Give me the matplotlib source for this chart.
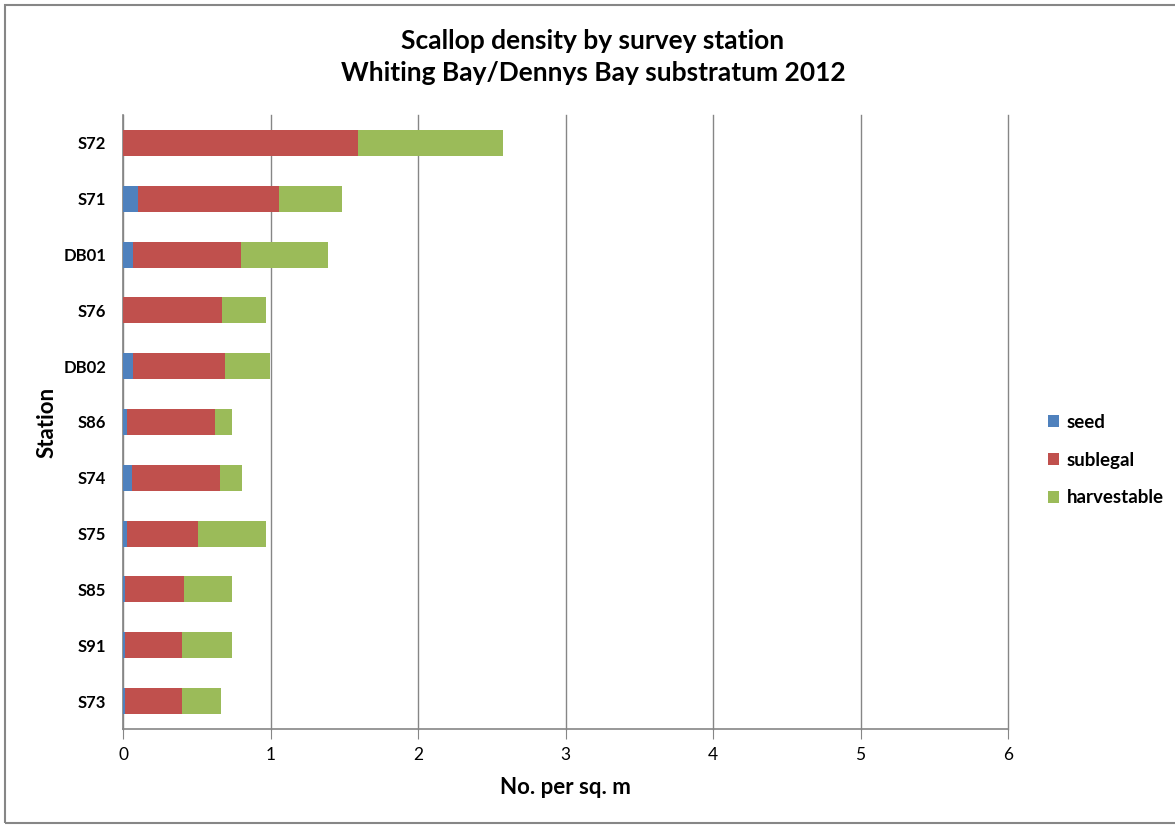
import numpy as np
import matplotlib.pyplot as plt
from matplotlib.patches import Rectangle

# ------------------------------------------------------------
# Data
# ------------------------------------------------------------
stations = ["S72", "S71", "DB01", "S76", "DB02", "S86",
            "S74", "S75", "S85", "S91", "S73"]
seed = [0.0, 0.10, 0.068, 0.0, 0.068, 0.025, 0.064, 0.03, 0.011, 0.011, 0.016]
sublegal = [1.59, 0.958, 0.73, 0.674, 0.626, 0.597, 0.592, 0.481, 0.403, 0.392, 0.387]
harvestable = [0.987, 0.429, 0.592, 0.298, 0.301, 0.117, 0.153, 0.456, 0.325, 0.336, 0.259]
series_names = ["seed", "sublegal", "harvestable"]
xticks = [0, 1, 2, 3, 4, 5, 6]

colors = ["#4F81BD", "#C0504D", "#9BBB59"]
grid_col = "#868686"

plt.rcParams["font.family"] = ["Lato", "DejaVu Sans"]

fig = plt.figure(figsize=(11.75, 8.25), dpi=100)
ax = fig.add_axes([123 / 1175, 1 - 729 / 825, (1008 - 123) / 1175, (729 - 115) / 825])

y = np.arange(len(stations))
seed_a = np.array(seed)
sub_a = np.array(sublegal)
harv_a = np.array(harvestable)

h = 0.465
ax.barh(y, seed_a, height=h, color=colors[0], label=series_names[0], zorder=3)
ax.barh(y, sub_a, left=seed_a, height=h, color=colors[1], label=series_names[1], zorder=3)
ax.barh(y, harv_a, left=seed_a + sub_a, height=h, color=colors[2], label=series_names[2], zorder=3)

ax.set_xlim(0, 6)
ax.set_ylim(len(stations) - 0.5, -0.5)
ax.set_xticks(xticks)
ax.set_xticklabels([str(t) for t in xticks], fontsize=12.5)
ax.set_yticks(y)
ax.set_yticklabels(stations, fontsize=12, fontweight="bold")

ax.grid(axis="x", color=grid_col, linewidth=1, zorder=0)
for gl in ax.get_xgridlines():
    gl.set_clip_on(False)
for s in ["top", "right"]:
    ax.spines[s].set_visible(False)
for s in ["left", "bottom"]:
    ax.spines[s].set_color(grid_col)
    ax.spines[s].set_linewidth(1.2)
ax.tick_params(axis="x", direction="out", length=7, color=grid_col, pad=6)
ax.tick_params(axis="y", length=0, pad=12)

ax.set_xlabel("No. per sq. m", fontsize=16, fontweight="bold", labelpad=10)
ax.set_ylabel("Station", fontsize=16, fontweight="bold", labelpad=4)

fig.text(593 / 1175, 1 - 41 / 825, "Scallop density by survey station",
         ha="center", va="center", fontsize=19, fontweight="bold")
fig.text(593 / 1175, 1 - 73 / 825, "Whiting Bay/Dennys Bay substratum 2012",
         ha="center", va="center", fontsize=19, fontweight="bold")

leg = ax.legend(loc="center left", bbox_to_anchor=(1.026, 0.438), frameon=False,
                prop={"size": 13.5, "weight": "bold"},
                handlelength=0.6, handleheight=0.6,
                handletextpad=0.4, labelspacing=1.1)

# outer chart border
fig.patches.append(Rectangle((5 / 1175, 2 / 825), 1.2, 1 - 7 / 825,
                             transform=fig.transFigure, fill=False,
                             edgecolor="#868686", linewidth=1.5))

fig.savefig("out.png", dpi=100)
